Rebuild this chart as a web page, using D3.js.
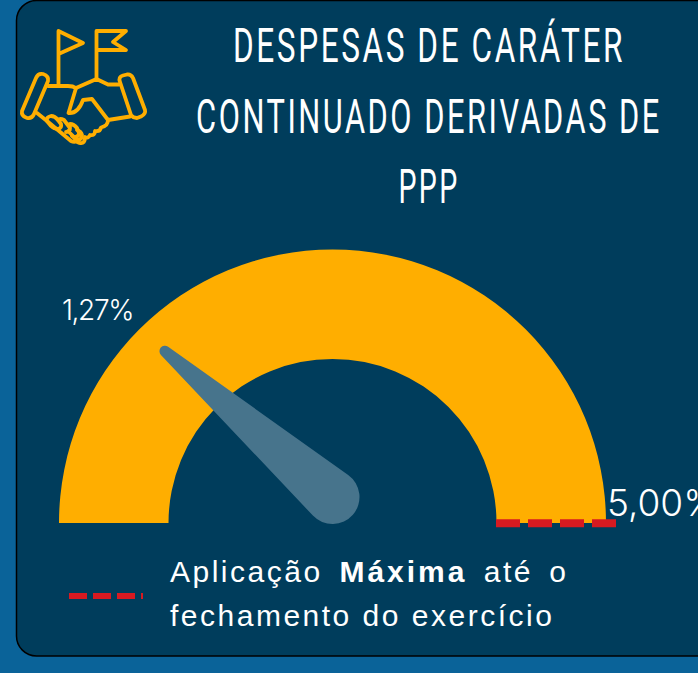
<!DOCTYPE html>
<html>
<head>
<meta charset="utf-8">
<script src="https://cdn.jsdelivr.net/npm/d3@7"></script>
<style>
  html, body { margin: 0; padding: 0; background: #0a6399; overflow: hidden; }
  svg { display: block; }
</style>
</head>
<body>
<div id="chart"></div>
<script>
const titleLines = ["DESPESAS DE CARÁTER", "CONTINUADO DERIVADAS DE", "PPP"]
const scaleDomain = [0, 5]
const currentValue = 1.27
const maxValue = 5
const currentLabel = "1,27%"
const maxLabel = "5,00%"

const width = 698
const height = 673
const center = { x: 332.5, y: 523 }
const outerRadius = 273.5
const innerRadius = 164

const svg = d3.select("#chart")
  .append("svg")
    .attr("width", width)
    .attr("height", height)

svg.append("rect")
  .attr("width", width)
  .attr("height", height)
  .attr("fill", "#0a6399")

// panel, right edge runs off the page
svg.append("rect")
  .attr("x", 16.5)
  .attr("y", 0.5)
  .attr("width", 720)
  .attr("height", 655.5)
  .attr("rx", 20)
  .attr("fill", "#003d5c")
  .attr("stroke", "#000")
  .attr("stroke-width", 1.5)

// title, squeezed sideways to get the condensed look
const titleWidths = [392, 466, 61]
svg.selectAll(".title")
  .data(titleLines)
  .enter()
  .append("text")
    .attr("class", "title")
    .attr("text-anchor", "middle")
    .attr("font-family", "Roboto, sans-serif")
    .attr("font-weight", 400)
    .attr("font-size", 49)
    .attr("letter-spacing", 4)
    .attr("fill", "#fff")
    .text(d => d)
    .attr("transform", function(d, i) {
      const s = titleWidths[i] / this.getComputedTextLength()
      return "translate(429," + (62 + i * 70.5) + ") scale(" + s + ",1)"
    })

// gauge
const angle = d3.scaleLinear()
  .domain(scaleDomain)
  .range([-Math.PI / 2, Math.PI / 2])

const gauge = svg.append("g")
  .attr("transform", "translate(" + center.x + "," + center.y + ")")

const arc = d3.arc()
  .innerRadius(innerRadius)
  .outerRadius(outerRadius)
  .startAngle(angle(scaleDomain[0]))
  .endAngle(angle(maxValue))

gauge.append("path")
  .attr("d", arc())
  .attr("fill", "#ffae00")

// needle: tapered from hub to tip, both ends round
const needleLength = 240
const hub = { x: 0, y: -26, r: 27 }
const tipRadius = 5.5
const a = angle(currentValue)
const tip = { x: needleLength * Math.sin(a), y: -needleLength * Math.cos(a), r: tipRadius }

function taper(p, q) {
  const dx = q.x - p.x, dy = q.y - p.y
  const dist = Math.hypot(dx, dy)
  const base = Math.atan2(dy, dx)
  const off = Math.acos((p.r - q.r) / dist)
  const pt = (c, t) => [c.x + c.r * Math.cos(t), c.y + c.r * Math.sin(t)]
  const p1 = pt(p, base + off), p2 = pt(p, base - off)
  const q1 = pt(q, base + off), q2 = pt(q, base - off)
  return "M" + p1 + "L" + q1 + "A" + q.r + "," + q.r + " 0 0 0 " + q2 +
    "L" + p2 + "A" + p.r + "," + p.r + " 0 1 0 " + p1 + "Z"
}

gauge.append("path")
  .attr("d", taper(hub, tip))
  .attr("fill", "#47748c")

// maximum marker on the baseline
gauge.append("line")
  .attr("x1", innerRadius - 0.5)
  .attr("x2", innerRadius + 119.5)
  .attr("y1", 0.3)
  .attr("y2", 0.3)
  .attr("stroke", "#d71a21")
  .attr("stroke-width", 8)
  .attr("stroke-dasharray", "24 8")

// value labels
svg.append("text")
  .attr("x", 62)
  .attr("y", 319.5)
  .attr("font-family", "Inter, sans-serif")
  .attr("font-weight", 300)
  .attr("font-size", 28)
  .attr("letter-spacing", -1.4)
  .attr("fill", "#fff")
  .text(currentLabel)

svg.append("text")
  .attr("x", 607)
  .attr("y", 516)
  .attr("font-family", "Inter, sans-serif")
  .attr("font-weight", 300)
  .attr("font-size", 37)
  .attr("fill", "#fff")
  .text(maxLabel)

// legend
svg.append("line")
  .attr("x1", 69)
  .attr("x2", 143)
  .attr("y1", 596)
  .attr("y2", 596)
  .attr("stroke", "#d71a21")
  .attr("stroke-width", 6)
  .attr("stroke-dasharray", "18 6")

const legend = svg.append("text")
  .attr("font-family", "'Liberation Sans', sans-serif")
  .attr("font-size", 30)
  .attr("letter-spacing", 2.5)
  .attr("fill", "#fff")

const line1 = legend.append("tspan").attr("x", 170).attr("y", 582)
line1.append("tspan").attr("word-spacing", 6).text("Aplicação ")
line1.append("tspan").attr("font-weight", "bold").attr("letter-spacing", 3).text("Máxima")
line1.append("tspan").attr("word-spacing", 5.5).text(" até o")

legend.append("tspan").attr("x", 170).attr("y", 626).text("fechamento do exercício")

// handshake and flags icon
const icon = svg.append("g")
  .attr("fill", "none")
  .attr("stroke", "#ffae00")
  .attr("stroke-width", 3.8)
  .attr("stroke-linejoin", "round")
  .attr("stroke-linecap", "round")

const iconPaths = [
  "M58.5,85 V31 L83,43 L58.5,54",
  "M96.5,78 V31 H126 L113,42 L126,50 H96.5",
  "M48,86 H68 Q73,86 76,88 L96.5,79 L108,84.5 H119",
  "M36,78 Q38,73 43,74 Q49,76 48,81 L34,114 Q32,119 27,118 Q21,116 22,111 Z",
  "M120,82 Q118,77 123,75.5 L127,74.5 Q131,74 133,78 L145,110 Q146,114 141,116.5 L137,118 Q133,118 131,115 Z",
  "M76,88 L68.5,113 Q78,114 83,100 L92,99 L108,120 L130,116.5",
  "M108,120 Q108,126 101,127.5 Q100,132 95,131 Q95,136 90,135 Q88,139 85,137 Q85,144 80,143 Q77,143 75,139",
  "M37,113 L47,121 L71,141 Q75,143 79,140",
  "M47,121 Q46,117 51,116 Q55,116 58,120 L61,124 Q62,128 58,129 Q54,129 51,126 Z",
  "M58,120 Q60,118 64,120 L70,128 Q70,132 66,132 M70,124 Q74,124 77,128 L79,133 Q79,137 74,137 L68,131",
  "M77,130 Q81,131 82,135 Q82,140 77,140 L72,136"
]

icon.selectAll("path")
  .data(iconPaths)
  .enter()
  .append("path")
    .attr("d", d => d)
</script>
</body>
</html>
